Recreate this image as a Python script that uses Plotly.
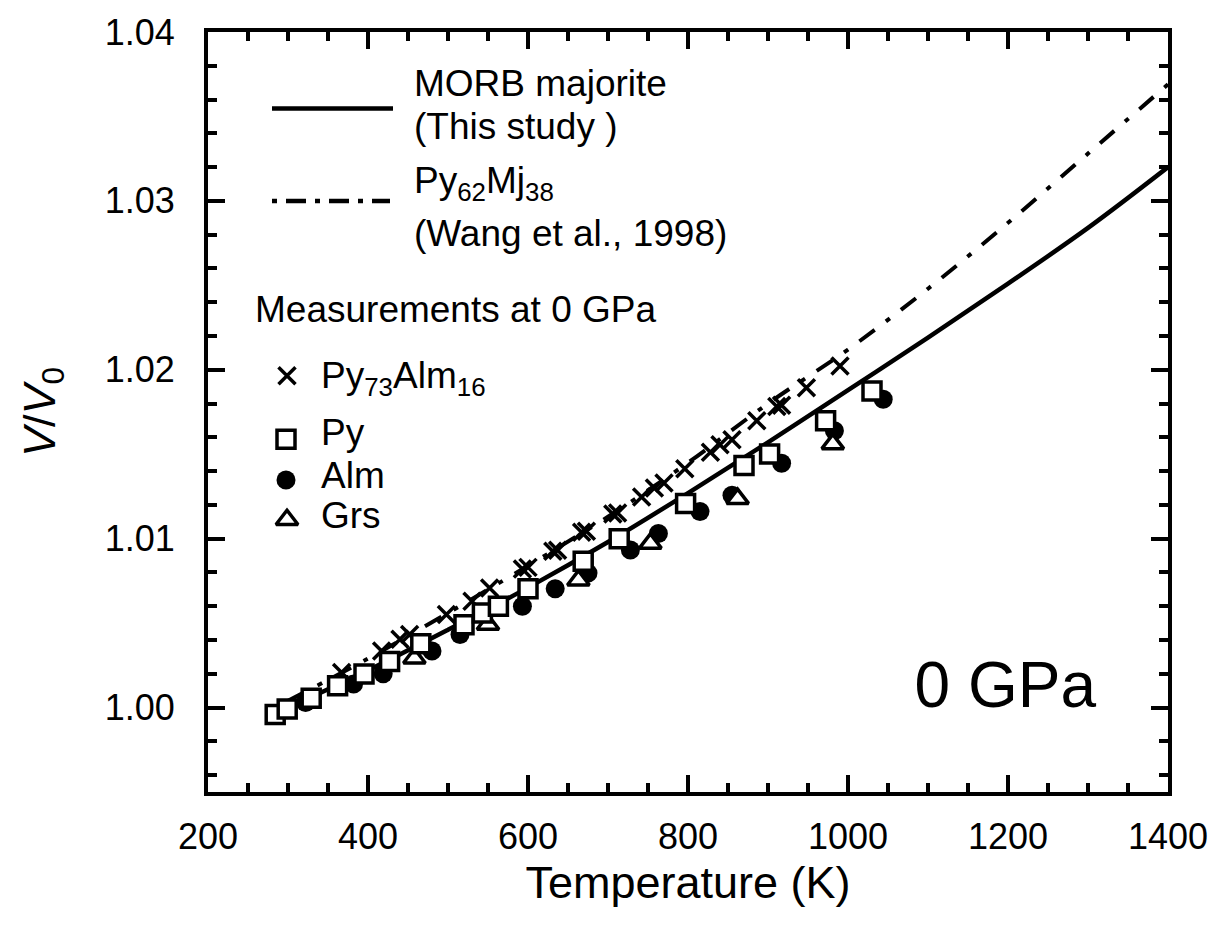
import plotly.graph_objects as go

# ---------------- data ----------------
# Model curves
morb_T = [280, 300, 400, 500, 600, 700, 800, 900, 1000, 1100, 1200, 1300, 1400]
morb_V = [0.99956, 1.0000, 1.0022, 1.0046, 1.0071, 1.0098, 1.0127, 1.0157, 1.0188, 1.0219, 1.0251, 1.0284, 1.0320]

wang_T = [300, 400, 500, 600, 700, 800, 900, 1000, 1100, 1200, 1300, 1400]
wang_V = [1.0004, 1.0029, 1.0056, 1.0084, 1.0113, 1.0145, 1.0180, 1.0212, 1.0248, 1.0287, 1.0328, 1.0369]

# Measurements at 0 GPa
pyalm_T = [367, 417, 440, 452, 498, 530, 552, 593, 600, 631, 637, 667, 673, 706, 712, 742, 758, 770, 796, 828, 840, 855, 886, 911, 917, 948, 990]
pyalm_V = [1.00208, 1.00335, 1.00404, 1.00433, 1.00551, 1.00629, 1.00708, 1.00820, 1.00830, 1.00925, 1.00932, 1.01038, 1.01044,
           1.01146, 1.01152, 1.01247, 1.01300, 1.01330, 1.01414, 1.01512, 1.01556, 1.01586, 1.01698, 1.01782, 1.01790, 1.01894, 1.02022]

py_T = [284, 299, 329, 362, 395, 427, 466, 520, 543, 563, 600, 669, 714, 797, 870, 902, 972, 1030]
py_V = [0.99959, 0.99992, 1.00055, 1.00129, 1.00198, 1.00272, 1.00378, 1.00490, 1.00560, 1.00600, 1.00703, 1.00867, 1.00999,
        1.01208, 1.01433, 1.01502, 1.01698, 1.01875]

alm_T = [322, 382, 419, 480, 515, 593, 634, 675, 728, 763, 815, 855, 917, 983, 1044]
alm_V = [1.0003, 1.0014, 1.0020, 1.00335, 1.00433, 1.0060, 1.00704, 1.00796, 1.00933, 1.01031, 1.01161, 1.01257, 1.01447, 1.01639, 1.01825]

grs_T = [458, 550, 663, 753, 862, 981]
grs_V = [1.00292, 1.00492, 1.00754, 1.00972, 1.01237, 1.01561]

x_ticks = [200, 400, 600, 800, 1000, 1200, 1400]
y_ticks = [1.00, 1.01, 1.02, 1.03, 1.04]

legend_texts = ["MORB majorite", "(This study )", "Py<sub>62</sub>Mj<sub>38</sub>", "(Wang et al., 1998)",
                "Measurements at 0 GPa", "Py<sub>73</sub>Alm<sub>16</sub>", "Py", "Alm", "Grs"]
panel_label = "0 GPa"

FONT = "Liberation Sans, Arial, sans-serif"
W, H = 1222, 928
L, R, T, B = 208, 1168, 27, 792   # plot area in pixels

fig = go.Figure()

# curves
fig.add_trace(go.Scatter(x=morb_T, y=morb_V, mode="lines", line=dict(color="black", width=4.5, shape="spline"),
                         showlegend=False))
fig.add_trace(go.Scatter(x=wang_T, y=wang_V, mode="lines",
                         line=dict(color="black", width=4, dash="19px,14px,5px,14px", shape="spline"),
                         showlegend=False))

# markers
X_MK = dict(symbol="x-thin", size=17, line=dict(color="black", width=3.5))
SQ_MK = dict(symbol="square", size=18, color="white", line=dict(color="black", width=3.5))
CI_MK = dict(symbol="circle", size=19, color="black", line=dict(width=0))
TR_MK = dict(symbol="triangle-up", size=19, color="white", line=dict(color="black", width=3.5))

fig.add_trace(go.Scatter(x=pyalm_T, y=pyalm_V, mode="markers", marker=X_MK, showlegend=False))
fig.add_trace(go.Scatter(x=alm_T, y=alm_V, mode="markers", marker=CI_MK, showlegend=False))
fig.add_trace(go.Scatter(x=grs_T, y=grs_V, mode="markers", marker=TR_MK, showlegend=False))
fig.add_trace(go.Scatter(x=py_T, y=py_V, mode="markers", marker=SQ_MK, showlegend=False))

# ---------------- legend (drawn in pixel-space overlay axes) ----------------
fig.add_trace(go.Scatter(x=[272, 393], y=[104, 104], mode="lines", xaxis="x2", yaxis="y2",
                         line=dict(color="black", width=4.5), showlegend=False))
fig.add_trace(go.Scatter(x=[272, 390], y=[197, 197], mode="lines", xaxis="x2", yaxis="y2",
                         line=dict(color="black", width=4.5, dash="5px,9px,20px,9px"), showlegend=False))
fig.add_trace(go.Scatter(x=[287], y=[373], mode="markers", xaxis="x2", yaxis="y2", marker=X_MK, showlegend=False))
fig.add_trace(go.Scatter(x=[286], y=[437], mode="markers", xaxis="x2", yaxis="y2", marker=SQ_MK, showlegend=False))
fig.add_trace(go.Scatter(x=[286], y=[478], mode="markers", xaxis="x2", yaxis="y2", marker=CI_MK, showlegend=False))
fig.add_trace(go.Scatter(x=[287], y=[518], mode="markers", xaxis="x2", yaxis="y2", marker=TR_MK, showlegend=False))

# legend texts as text traces (left-anchored)
lx = [414, 414, 414, 414, 255, 321, 321, 321, 321]
ly = [82, 125, 180, 233, 310, 376, 433, 477, 517]
fig.add_trace(go.Scatter(x=lx, y=ly, mode="text", text=legend_texts, textposition="middle right",
                         xaxis="x2", yaxis="y2", textfont=dict(family=FONT, size=37, color="black"),
                         showlegend=False, hoverinfo="skip"))
fig.add_trace(go.Scatter(x=[1096], y=[690], mode="text", text=[panel_label], textposition="middle left",
                         xaxis="x2", yaxis="y2", textfont=dict(family=FONT, size=64, color="black"),
                         showlegend=False, hoverinfo="skip"))

axis_common = dict(showline=True, linecolor="black", linewidth=4, mirror="allticks", ticks="inside",
                   ticklen=17, tickwidth=4, tickcolor="black", showgrid=False, zeroline=False,
                   tickfont=dict(family=FONT, size=36, color="black"))

fig.update_layout(
    width=W, height=H,
    margin=dict(l=L, r=W - R, t=T, b=H - B, pad=0),
    paper_bgcolor="white", plot_bgcolor="white",
    xaxis=dict(range=[200, 1400], tickvals=x_ticks, ticktext=[str(v) for v in x_ticks],
               minor=dict(ticks="inside", ticklen=9, tickwidth=4, tickcolor="black", dtick=50, tick0=200),
               title=dict(text="Temperature (K)", font=dict(family=FONT, size=45, color="black"), standoff=6),
               ticklabelstandoff=10, **axis_common),
    yaxis=dict(range=[0.995, 1.04], tickvals=y_ticks, ticktext=[f"{v:.2f}" for v in y_ticks],
               minor=dict(ticks="inside", ticklen=9, tickwidth=4, tickcolor="black", dtick=0.002, tick0=1.0),
               title=dict(text="<i>V</i>/<i>V</i><sub>0</sub>", font=dict(family=FONT, size=45, color="black"), standoff=36),
               ticklabelstandoff=22, **axis_common),
    xaxis2=dict(overlaying="x", range=[L, R], visible=False, fixedrange=True),
    yaxis2=dict(overlaying="y", range=[B, T], visible=False, fixedrange=True),
)

fig.write_html("out.html")
